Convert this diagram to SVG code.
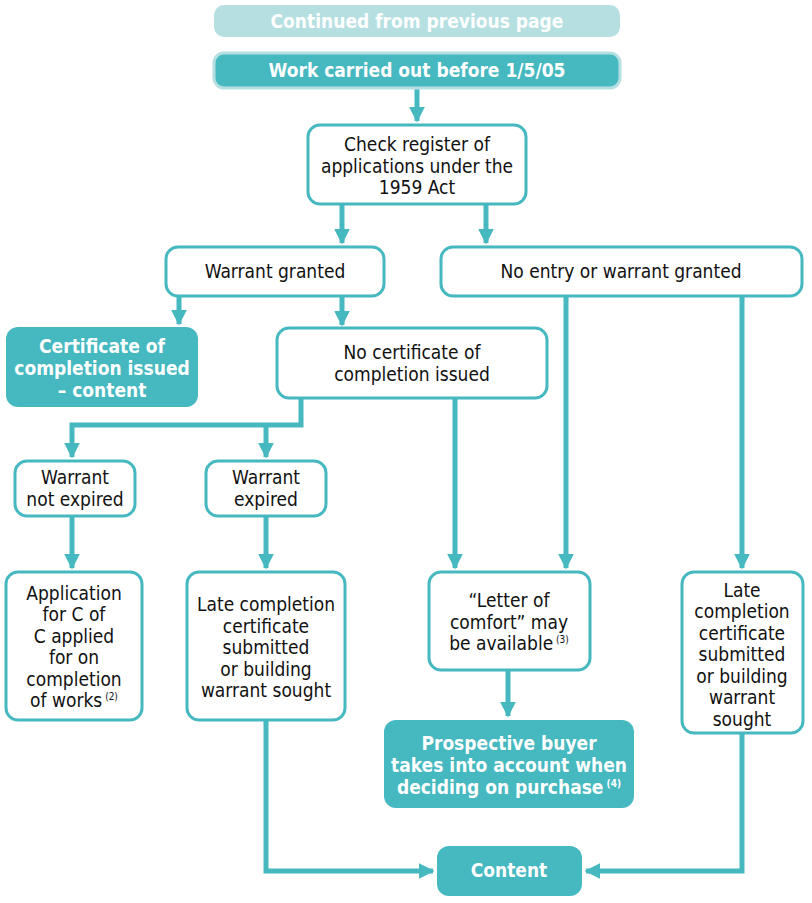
<svg xmlns="http://www.w3.org/2000/svg" width="812" height="903" viewBox="0 0 812 903">
<style>
text{font-family:"Liberation Sans Narrow","DejaVu Sans Condensed","Liberation Sans",sans-serif;font-size:19px;text-anchor:middle;fill:#111}
.w{fill:#fff;font-weight:bold}
.b{fill:#fff;stroke:#45B8C0;stroke-width:3}
.f{fill:#45B8C0}
.c{fill:none;stroke:#45B8C0;stroke-width:5}
sup{font-size:10px}
</style>
<defs><marker id="a" viewBox="0 0 10 10" refX="9" refY="5" markerWidth="3.2" markerHeight="3.2" orient="auto" markerUnits="strokeWidth"><path d="M0,0L10,5L0,10z" fill="#45B8C0"/></marker></defs>
<g id="connectors" class="c">
<path d="M417,87V121" marker-end="url(#a)"/>
<path d="M342,204V243" marker-end="url(#a)"/>
<path d="M486,204V243" marker-end="url(#a)"/>
<path d="M179,296V324" marker-end="url(#a)"/>
<path d="M342,296V325" marker-end="url(#a)"/>
<path d="M301,398V425H72V457" marker-end="url(#a)"/>
<path d="M266,425V457" marker-end="url(#a)"/>
<path d="M455,398V568" marker-end="url(#a)"/>
<path d="M566,296V568" marker-end="url(#a)"/>
<path d="M742,296V568" marker-end="url(#a)"/>
<path d="M72,516V568" marker-end="url(#a)"/>
<path d="M266,516V568" marker-end="url(#a)"/>
<path d="M508,670V716" marker-end="url(#a)"/>
<path d="M266,720V871H433" marker-end="url(#a)"/>
<path d="M742,733V871H586" marker-end="url(#a)"/>
</g>
<g id="n1"><rect x="214" y="5" width="406" height="32" rx="10" fill="#B5DFE1"/><text x="417" y="28" class="w" style="fill:#fff">Continued from previous page</text></g>
<g id="n2"><rect x="214" y="53" width="406" height="35" rx="10" class="f" stroke="#B5DFE1" stroke-width="3"/><text x="417" y="77" class="w">Work carried out before 1/5/05</text></g>
<g id="n3"><rect x="308" y="125" width="218" height="79" rx="12" class="b"/><text x="417" y="151">Check register of</text><text x="417" y="173">applications under the</text><text x="417" y="194">1959 Act</text></g>
<g id="n4"><rect x="166" y="247" width="218" height="49" rx="12" class="b"/><text x="275" y="278">Warrant granted</text></g>
<g id="n5"><rect x="441" y="247" width="361" height="49" rx="12" class="b"/><text x="621" y="278">No entry or warrant granted</text></g>
<g id="n6"><rect x="6" y="327" width="192" height="80" rx="12" class="f"/><text x="102" y="353" class="w">Certificate of</text><text x="102" y="375" class="w">completion issued</text><text x="102" y="397" class="w">– content</text></g>
<g id="n7"><rect x="277" y="328" width="270" height="70" rx="12" class="b"/><text x="412" y="359">No certificate of</text><text x="412" y="381">completion issued</text></g>
<g id="n8"><rect x="15" y="461" width="120" height="55" rx="12" class="b"/><text x="75" y="484">Warrant</text><text x="75" y="506">not expired</text></g>
<g id="n9"><rect x="206" y="461" width="120" height="55" rx="12" class="b"/><text x="266" y="484">Warrant</text><text x="266" y="506">expired</text></g>
<g id="n10"><rect x="6" y="572" width="136" height="148" rx="12" class="b"/><text x="74" y="600">Application</text><text x="74" y="621">for C of</text><text x="74" y="643">C applied</text><text x="74" y="664">for on</text><text x="74" y="686">completion</text><text x="74" y="707">of works<tspan font-size="10" dy="-7"> (2)</tspan></text></g>
<g id="n11"><rect x="187" y="572" width="158" height="148" rx="12" class="b"/><text x="266" y="611">Late completion</text><text x="266" y="633">certificate</text><text x="266" y="654">submitted</text><text x="266" y="676">or building</text><text x="266" y="697">warrant sought</text></g>
<g id="n12"><rect x="429" y="572" width="161" height="98" rx="12" class="b"/><text x="509" y="607">“Letter of</text><text x="509" y="629">comfort” may</text><text x="509" y="650">be available<tspan font-size="10" dy="-7"> (3)</tspan></text></g>
<g id="n13"><rect x="682" y="572" width="121" height="161" rx="12" class="b"/><text x="742" y="597">Late</text><text x="742" y="618">completion</text><text x="742" y="640">certificate</text><text x="742" y="661">submitted</text><text x="742" y="683">or building</text><text x="742" y="704">warrant</text><text x="742" y="726">sought</text></g>
<g id="n14"><rect x="384" y="720" width="250" height="88" rx="12" class="f"/><text x="509" y="750" class="w">Prospective buyer</text><text x="509" y="772" class="w">takes into account when</text><text x="509" y="794" class="w">deciding on purchase<tspan font-size="10" dy="-7"> (4)</tspan></text></g>
<g id="n15"><rect x="437" y="846" width="145" height="50" rx="12" class="f"/><text x="509" y="877" class="w">Content</text></g>
</svg>
